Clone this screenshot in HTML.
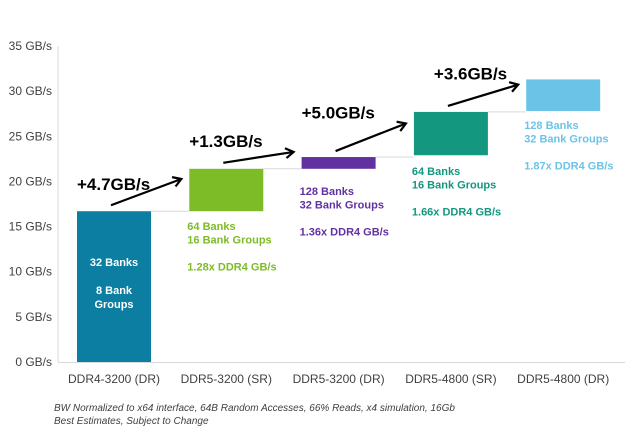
<!DOCTYPE html>
<html><head><meta charset="utf-8"><style>
body{margin:0;background:#fff;}
svg{font-family:"Liberation Sans",Arial,sans-serif;}
</style></head><body>
<svg id="chart" width="640" height="442"></svg>
<script>
const categories=["DDR4-3200 (DR)","DDR5-3200 (SR)","DDR5-3200 (DR)","DDR5-4800 (SR)","DDR5-4800 (DR)"];
const barBase=[0,16.7,21.4,22.9,27.8];
const barTop=[16.7,21.4,22.7,27.7,31.3];
const deltas=["+4.7GB/s","+1.3GB/s","+5.0GB/s","+3.6GB/s"];
const yTicks=[0,5,10,15,20,25,30,35];
const colors=["#0b7ea1","#7dbb27","#6131a1","#13977f","#6cc3e8"];
const notes=[["32 Banks","","8 Bank","Groups"],["64 Banks","16 Bank Groups","","1.28x DDR4 GB/s"],["128 Banks","32 Bank Groups","","1.36x DDR4 GB/s"],["64 Banks","16 Bank Groups","","1.66x DDR4 GB/s"],["128 Banks","32 Bank Groups","","1.87x DDR4 GB/s"]];
const NS="http://www.w3.org/2000/svg";
const svg=document.getElementById('chart');
const y=v=>362-v*(316/35);
const xL=i=>77+i*112.3, bw=74;
function mk(t,a,p){const e=document.createElementNS(NS,t);for(const k in a)e.setAttribute(k,a[k]);(p||svg).appendChild(e);return e;}
const defs=mk('defs',{});
const m=mk('marker',{id:'ah',markerWidth:12,markerHeight:12,refX:9,refY:6,orient:'auto',markerUnits:'userSpaceOnUse'},defs);
mk('path',{d:'M1,1 L9,6 L1,11',fill:'none',stroke:'#000','stroke-width':2.2},m);
const ax=mk('line',{x1:58,x2:58,y1:46,y2:362,stroke:'#d9d9d9'});

const bl=mk('line',{x1:58,x2:625,y1:362.5,y2:362.5,stroke:'#d9d9d9'});

yTicks.forEach(v=>{const t=mk('text',{x:52,y:y(v)+4,'text-anchor':'end','font-size':12,fill:'#404040'});t.textContent=v+' GB/s';
});
categories.forEach((c,i)=>{
 const x=xL(i);
 const r=mk('rect',{x:x,y:y(barTop[i]),width:bw,height:y(barBase[i])-y(barTop[i]),fill:colors[i]});
 
 const t=mk('text',{x:x+bw/2,y:383,'text-anchor':'middle','font-size':12,fill:'#404040'});t.textContent=c;
 
 if(i<categories.length-1){const l=mk('line',{x1:x+bw,x2:xL(i+1),y1:y(barTop[i]),y2:y(barTop[i]),stroke:'#d9d9d9'});
  
  const ya=y(barTop[i]), yb=y(barTop[i+1]);
  const x0=x+34,y0=ya-6,x1=xL(i+1)-8,y1=(ya+yb)/2-11;
  const a=mk('line',{x1:x0,y1:y0,x2:x1,y2:y1,stroke:'#000','stroke-width':2.2,'marker-end':'url(#ah)'});
  
  const d=mk('text',{x:x+(i==3?20:0),y:(ya+yb)/2-(i==0?0:16),'font-size':17,'font-weight':'bold',fill:'#000'});d.textContent=deltas[i];
  
 }
 const g=mk('text',{'font-size':11,'font-weight':'bold',fill:i==0?'#fff':colors[i]});
 
 notes[i].forEach((s,j)=>{
  let base=i==0?266:y(barBase[i])+(i==2?26:i==3?20:i==4?18:19);
  const ts=mk('tspan',{x:i==0?x+bw/2:x-2,y:base+j*(i==0?14:13.5),'text-anchor':i==0?'middle':'start'},g);ts.textContent=s;});
});
[["BW Normalized to x64 interface, 64B Random Accesses, 66% Reads, x4 simulation, 16Gb",411],["Best Estimates, Subject to Change",424]].forEach(f=>{
 const t=mk('text',{x:54,y:f[1],'font-size':10,'font-style':'italic',fill:'#404040'});t.textContent=f[0];
 });
</script>
</body></html>
